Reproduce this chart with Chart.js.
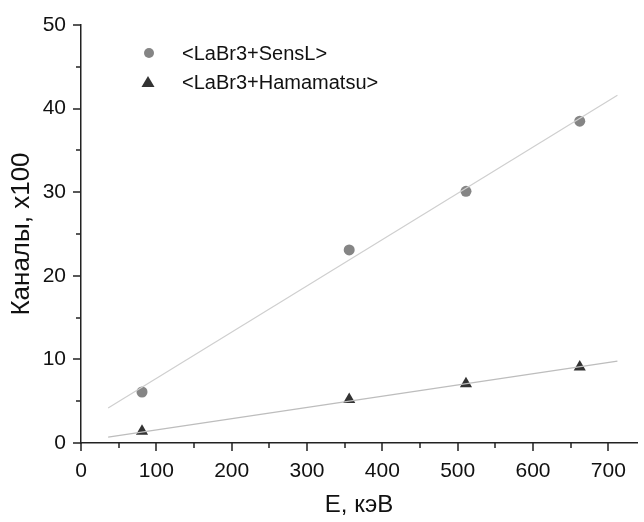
<!DOCTYPE html>
<html>
<head>
<meta charset="utf-8">
<script src="https://cdn.jsdelivr.net/npm/chart.js@4/dist/chart.umd.min.js"></script>
<style>
  html, body { margin: 0; padding: 0; background: #fff; }
  #wrap { width: 644px; height: 522px; }
</style>
</head>
<body>
<div id="wrap"><canvas id="chart"></canvas></div>
<script>
// measured points
const energies = [81, 356, 511, 662];
const sensL = [6.1, 23.1, 30.1, 38.5];
const hamamatsu = [1.4, 5.2, 7.1, 9.1];
// fitted lines, endpoints
const fitX = [36, 712];
const sensLFit = [4.2, 41.6];
const hamamatsuFit = [0.7, 9.8];
const legendLabels = ['<LaBr3+SensL>', '<LaBr3+Hamamatsu>'];

const AXIS = '#222';
const FONT = 'Liberation Sans, Arial, sans-serif';

const pts = (xs, ys) => xs.map((x, i) => ({ x: x, y: ys[i] }));

// outward major/minor ticks + legend in the top left of the plot
const decor = {
  id: 'decor',
  afterDraw(chart) {
    const ctx = chart.ctx;
    const xs = chart.scales.x, ys = chart.scales.y;
    const bottom = ys.getPixelForValue(0), left = xs.getPixelForValue(0);
    ctx.save();
    ctx.strokeStyle = AXIS;
    ctx.lineWidth = 1.5;
    ctx.beginPath();
    for (let v = 0; v <= 700; v += 50) {
      const px = Math.round(xs.getPixelForValue(v));
      ctx.moveTo(px, bottom);
      ctx.lineTo(px, bottom + (v % 100 === 0 ? 8 : 5));
    }
    for (let v = 0; v <= 50; v += 5) {
      const py = Math.round(ys.getPixelForValue(v));
      ctx.moveTo(left, py);
      ctx.lineTo(left - (v % 10 === 0 ? 8 : 5), py);
    }
    ctx.stroke();

    // legend
    ctx.font = '20px ' + FONT;
    ctx.textBaseline = 'middle';
    ctx.fillStyle = '#111';
    ctx.fillText(legendLabels[0], 182, 54);
    ctx.fillText(legendLabels[1], 182, 83);
    ctx.fillStyle = '#858585';
    ctx.beginPath();
    ctx.arc(149, 53, 5, 0, Math.PI * 2);
    ctx.fill();
    ctx.fillStyle = '#333';
    ctx.beginPath();
    ctx.moveTo(148, 76);
    ctx.lineTo(154.5, 87);
    ctx.lineTo(141.5, 87);
    ctx.closePath();
    ctx.fill();
    ctx.restore();
  }
};

new Chart(document.getElementById('chart'), {
  type: 'scatter',
  data: {
    datasets: [
      {
        type: 'line', data: pts(fitX, sensLFit), borderColor: '#cfcfcf',
        borderWidth: 1.2, pointRadius: 0, fill: false
      },
      {
        type: 'line', data: pts(fitX, hamamatsuFit), borderColor: '#bdbdbd',
        borderWidth: 1.2, pointRadius: 0, fill: false
      },
      {
        data: pts(energies, sensL), pointStyle: 'circle', pointRadius: 5.5,
        backgroundColor: '#858585', borderColor: '#858585', borderWidth: 0
      },
      {
        data: pts(energies, hamamatsu), pointStyle: 'triangle', pointRadius: 7,
        backgroundColor: '#333', borderColor: '#333', borderWidth: 0
      }
    ]
  },
  options: {
    responsive: true,
    maintainAspectRatio: false,
    animation: false,
    layout: { padding: { top: 25, right: 4, left: 0, bottom: 0 } },
    plugins: { legend: { display: false }, tooltip: { enabled: false } },
    scales: {
      x: {
        type: 'linear', min: 0, max: 738,
        afterFit: s => { s.height = 79; },
        afterBuildTicks: s => { s.ticks = [0, 100, 200, 300, 400, 500, 600, 700].map(v => ({ value: v })); },
        grid: { display: false },
        border: { display: true, color: AXIS, width: 1.5 },
        ticks: { padding: 8, color: '#111', font: { family: FONT, size: 21 } },
        title: {
          display: true, text: 'E, кэВ', color: '#111',
          font: { family: FONT, size: 24 }, padding: { top: 0, bottom: 2 }
        }
      },
      y: {
        type: 'linear', min: 0, max: 50,
        afterFit: s => { s.width = 81; },
        ticks: { stepSize: 10, padding: 7, color: '#111', font: { family: FONT, size: 21 } },
        grid: { display: false },
        border: { display: true, color: AXIS, width: 1.5 },
        title: {
          display: true, text: 'Каналы, x100', color: '#111',
          font: { family: FONT, size: 26 }, padding: { top: 6, bottom: 0 }
        }
      }
    }
  },
  plugins: [decor]
});
</script>
</body>
</html>
